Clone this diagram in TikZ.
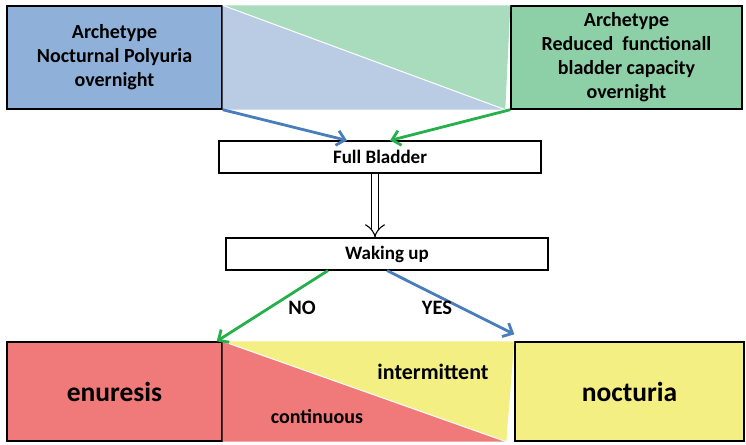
\documentclass[tikz,border=0pt]{standalone}
\usepackage{fontspec}
\setmainfont{Carlito}
\usepackage{tikz}
\usetikzlibrary{arrows.meta,positioning,calc}
\definecolor{ArchBlue}{HTML}{8FB1D9}
\definecolor{ArchBlueLt}{HTML}{B9CCE4}
\definecolor{ArchGreen}{HTML}{8DCFA6}
\definecolor{ArchGreenLt}{HTML}{A9DBBD}
\definecolor{EnuRed}{HTML}{F07A79}
\definecolor{NocYellow}{HTML}{F4EF83}
\definecolor{ArrBlue}{HTML}{4A7EBB}
\definecolor{ArrGreen}{HTML}{25B04B}

\begin{document}
\begin{tikzpicture}[x=1pt,y=-1pt,
  arch/.style={draw=black,line width=1.4pt,minimum height=103pt,align=center,
               font=\fontsize{20}{24}\selectfont\bfseries},
  stepbox/.style={draw=black,line width=1.1pt,fill=white,minimum width=322pt,
                  minimum height=32pt,font=\fontsize{19}{22}\selectfont\bfseries},
  outcome/.style={draw=black,line width=1.4pt,minimum height=99pt,
                  font=\fontsize{27.5}{32}\selectfont\bfseries},
  lbl/.style={font=\fontsize{20.5}{24}\selectfont\bfseries},
  flow/.style={line width=2.8pt,-{Straight Barb[length=8pt,width=15pt]}},
]
\useasboundingbox (0,0) rectangle (746,444);
% boxes
\node[arch,fill=ArchBlue,minimum width=215pt] (poly) at (114.5,57.5)
  {Archetype\\Nocturnal Polyuria\\overnight};
\node[arch,fill=ArchGreen,minimum width=231pt] (cap) at (626.5,57.5)
  {Archetype\\Reduced\ \ functionall\\bladder capacity\\overnight};
\node[stepbox] (full) at (380,157) {Full Bladder};
\node[stepbox] (wake) at (387,254) {Waking up};
\node[outcome,fill=EnuRed,minimum width=215pt] (enu) at (114.5,391.5) {enuresis};
\node[outcome,fill=NocYellow,minimum width=229pt] (noc) at (629.5,391.5) {nocturia};
% triangles between boxes
\fill[ArchGreenLt] (poly.north east) -- (cap.north west) -- ([xshift=-5pt]cap.south west) -- cycle;
\fill[ArchBlueLt] (poly.north east) -- ([xshift=-5pt]cap.south west) -- (poly.south east) -- cycle;
\draw[white,line width=1pt] (poly.north east) -- ([xshift=-5pt]cap.south west);
\fill[NocYellow] (enu.north east) -- (noc.north west) -- ([xshift=-8pt]noc.south west) -- cycle;
\fill[EnuRed] (enu.north east) -- ([xshift=-8pt]noc.south west) -- (enu.south east) -- cycle;
\draw[white,line width=1pt] (enu.north east) -- ([xshift=-8pt]noc.south west);
\node[lbl,font=\fontsize{22}{26}\selectfont\bfseries] (inter) at (433,372) {intermittent};
\node[lbl,font=\fontsize{20}{24}\selectfont\bfseries] (cont) at (317,417) {continuous};
% connectors
\draw[flow,ArrBlue] (poly.south east) -- ([xshift=-33pt]full.north);
\draw[flow,ArrGreen] (cap.south west) -- ([xshift=10pt]full.north);
\draw[line width=1.1pt,double,double distance=6pt,-{Implies}]
  ([xshift=-5pt]full.south) -- ([xshift=-5pt]full.south |- wake.north);
\draw[flow,ArrGreen] ([xshift=-59pt]wake.south) -- ([xshift=-6pt]enu.north east);
\draw[flow,ArrBlue] (wake.south) -- ([yshift=7pt]noc.north west);
\node[lbl] (no) at (302,308) {NO};
\node[lbl] (yes) at (437,308) {YES};
\end{tikzpicture}
\end{document}
